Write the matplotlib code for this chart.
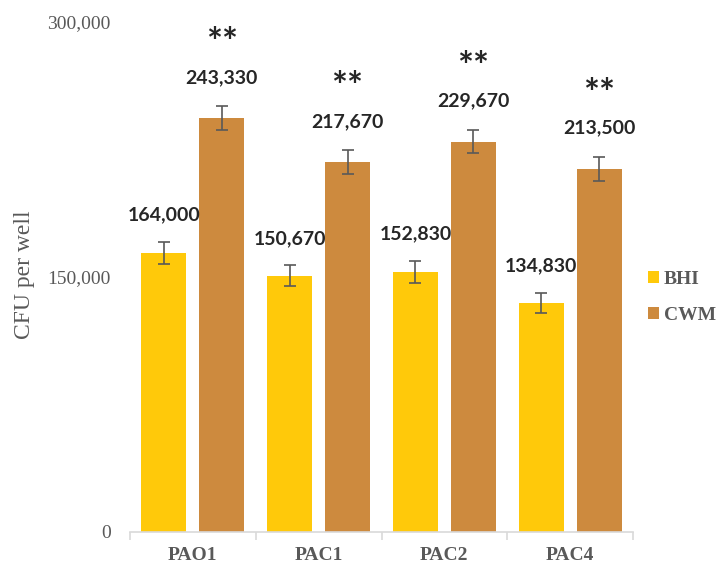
import numpy as np
import matplotlib.pyplot as plt
from matplotlib.ticker import FuncFormatter

strains = ['PAO1', 'PAC1', 'PAC2', 'PAC4']
bhi = [164000, 150670, 152830, 134830]
cwm = [243330, 217670, 229670, 213500]
bhi_err = [6500, 6200, 6500, 6000]
cwm_err = [7000, 6800, 6800, 7000]
stars = ['**', '**', '**', '**']

yellow = '#FFC90A'
brown = '#CD8A3E'
gray = '#595959'

fig = plt.figure(figsize=(7.19, 5.69), dpi=100)
ax = fig.add_axes([130 / 719, 1 - 532 / 569, 503 / 719, 510 / 569])

x = np.arange(len(strains))
w = 0.358
off = 0.23

err_kw = dict(ecolor=gray, elinewidth=1.2, capsize=4, capthick=1.2)
ax.bar(x - off, bhi, w, yerr=bhi_err, color=yellow, label='BHI', error_kw=err_kw)
ax.bar(x + off, cwm, w, yerr=cwm_err, color=brown, label='CWM', error_kw=err_kw)

lab_font = dict(family='Lato', weight='bold', size=14, color='#262626')
for xi, v, e in zip(x - off, bhi, bhi_err):
    ax.annotate(f'{v:,}', (xi, v + e), xytext=(0, 27 * 0.72), textcoords='offset points',
                ha='center', va='center', **lab_font)
for xi, v, e, s in zip(x + off, cwm, cwm_err, stars):
    ax.annotate(f'{v:,}', (xi, v + e), xytext=(0, 29 * 0.72), textcoords='offset points',
                ha='center', va='center', **lab_font)
    ax.annotate(s, (xi, v + e), xytext=(0, 62 * 0.72), textcoords='offset points',
                ha='center', va='center', family='Lato', weight='bold', size=27, color='#262626')

ax.set_xlim(-0.5, len(strains) - 0.5)
ax.set_ylim(0, 300000)
ax.set_yticks([0, 150000, 300000])
ax.yaxis.set_major_formatter(FuncFormatter(lambda v, p: f'{int(v):,}'))
ax.set_xticks(x)
ax.set_xticklabels(strains)
ax.set_xticks(np.arange(-0.5, len(strains)), minor=True)

for s in ['top', 'right', 'left']:
    ax.spines[s].set_visible(False)
ax.spines['bottom'].set_color('#d9d9d9')
ax.spines['bottom'].set_linewidth(1.2)

ax.tick_params(axis='x', which='major', length=0, pad=11, labelsize=14, labelcolor=gray)
ax.tick_params(axis='x', which='minor', length=6, color='#d9d9d9', width=1.2)
ax.tick_params(axis='y', length=0, pad=14, labelsize=14, labelcolor=gray)
for t in ax.get_xticklabels() + ax.get_yticklabels():
    t.set_family('Liberation Serif')
for t in ax.get_xticklabels():
    t.set_weight('bold')

ax.set_ylabel('CFU per well', family='Liberation Serif', size=17, color=gray)
ax.yaxis.set_label_coords(-0.189, 0.504)

leg = ax.legend(loc='center left', bbox_to_anchor=(1.03, 0.46), frameon=False,
                borderaxespad=0, borderpad=0,
                handlelength=0.55, handleheight=0.55, handletextpad=0.25, labelspacing=1.0,
                prop=dict(family='Liberation Serif', size=14, weight='bold'))
for t in leg.get_texts():
    t.set_color(gray)

fig.savefig('out.png', dpi=100)
